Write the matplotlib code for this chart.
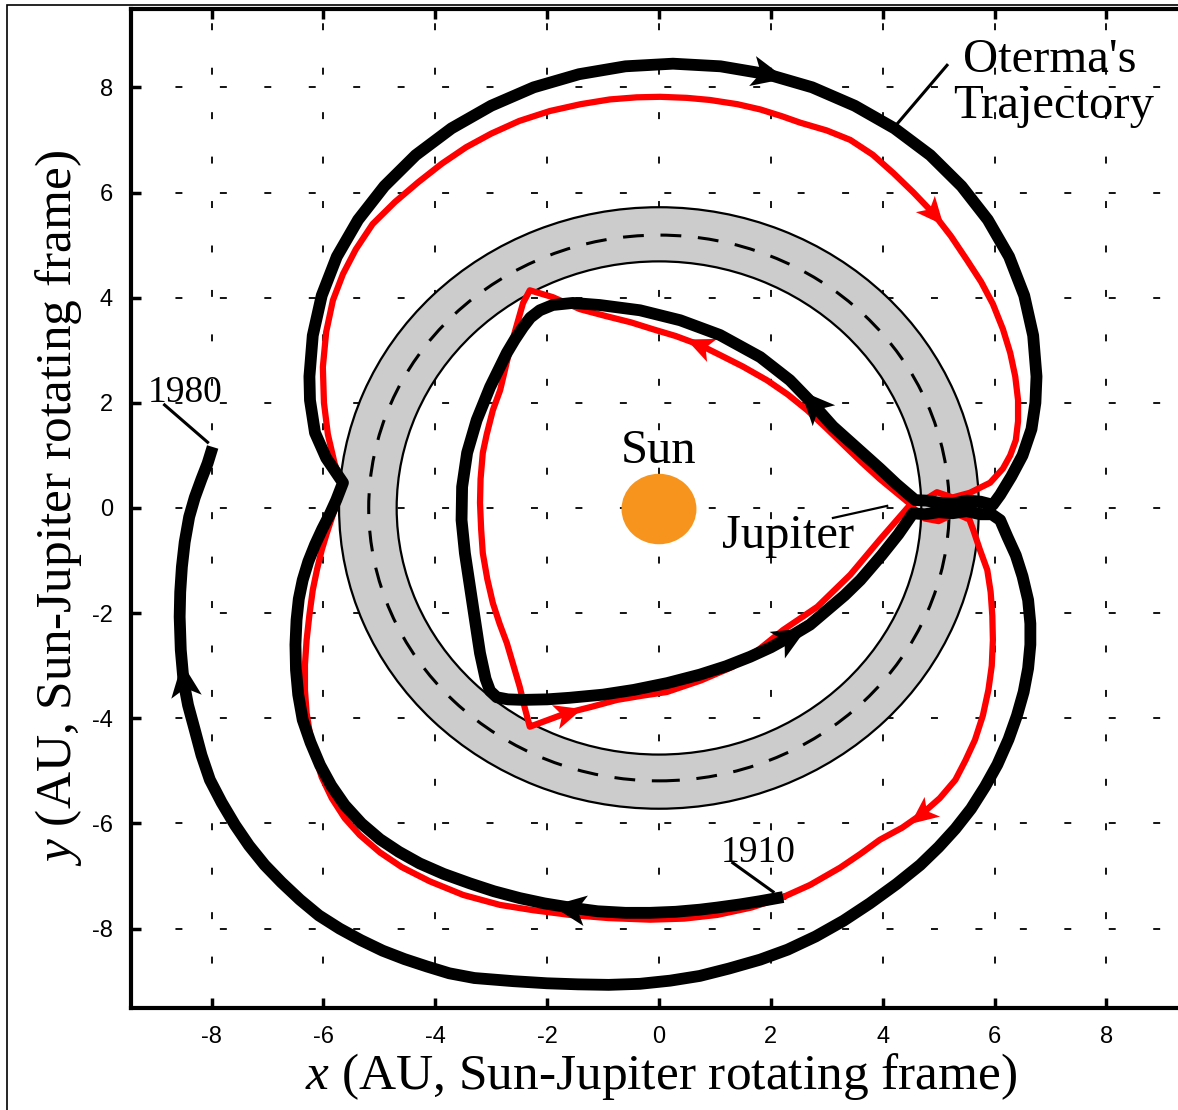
import numpy as np
import matplotlib.pyplot as plt
from matplotlib.patches import Annulus, Circle, Rectangle
from matplotlib.markers import MarkerStyle
from matplotlib.path import Path
from matplotlib.transforms import Affine2D

plt.rcParams['mathtext.fontset'] = 'custom'
plt.rcParams['mathtext.rm'] = 'Liberation Serif'
plt.rcParams['mathtext.it'] = 'Liberation Serif:italic'
plt.rcParams['lines.scale_dashes'] = False
plt.rcParams['axes.unicode_minus'] = False

# Oterma's trajectory 1910 -> 1980 (AU, Sun-Jupiter rotating frame), in pieces
oterma_in_bottom = [(2.22, -7.40), (1.80, -7.48), (1.45, -7.54), (1.04, -7.60), (0.73, -7.64),
                    (0.30, -7.68), (-0.16, -7.70), (-0.60, -7.70), (-1.10, -7.67), (-1.59, -7.60),
                    (-2.05, -7.52), (-2.49, -7.42), (-2.95, -7.29), (-3.38, -7.14), (-3.85, -6.96),
                    (-4.28, -6.76), (-4.65, -6.54), (-4.99, -6.30), (-5.32, -6.00), (-5.62, -5.65),
                    (-5.86, -5.28), (-6.06, -4.89), (-6.23, -4.46), (-6.37, -4.03), (-6.45, -3.55),
                    (-6.49, -3.08), (-6.50, -2.60), (-6.48, -2.13), (-6.44, -1.73), (-6.37, -1.37),
                    (-6.27, -1.02), (-6.15, -0.70), (-6.02, -0.40), (-5.89, -0.13), (-5.77, 0.15),
                    (-5.65, 0.48)]
oterma_top = [(-5.95, 0.95), (-6.15, 1.43), (-6.24, 2.05), (-6.25, 2.50), (-6.19, 3.28),
              (-6.03, 4.04), (-5.76, 4.78), (-5.38, 5.48), (-4.91, 6.12), (-4.35, 6.71),
              (-3.71, 7.22), (-3.00, 7.65), (-2.24, 8.00), (-1.43, 8.25), (-0.60, 8.40),
              (0.25, 8.45), (1.10, 8.40), (1.93, 8.25), (2.74, 8.00), (3.50, 7.65),
              (4.21, 7.22), (4.85, 6.71), (5.41, 6.12), (5.88, 5.48), (6.26, 4.78),
              (6.53, 4.04), (6.69, 3.28), (6.75, 2.50), (6.73, 2.00), (6.66, 1.50),
              (6.50, 1.00), (6.30, 0.60), (6.10, 0.25), (5.97, 0.06)]
oterma_jup_in = [(5.75, 0.12), (5.50, 0.14), (5.25, 0.08), (5.00, 0.10), (4.78, 0.14),
                 (4.58, 0.15)]
oterma_loop = [(4.25, 0.45), (3.95, 0.75), (3.50, 1.18), (3.11, 1.55), (2.75, 1.98),
               (2.34, 2.43), (1.81, 2.87), (1.09, 3.29), (0.38, 3.57), (-0.34, 3.76),
               (-1.06, 3.86), (-1.54, 3.90), (-1.90, 3.86), (-2.13, 3.76), (-2.30, 3.62),
               (-2.43, 3.44), (-2.58, 3.20), (-2.72, 2.95), (-3.02, 2.30), (-3.26, 1.67),
               (-3.43, 1.05), (-3.52, 0.40), (-3.53, -0.23), (-3.47, -0.86), (-3.38, -1.50),
               (-3.29, -2.13), (-3.20, -2.76), (-3.10, -3.25), (-3.02, -3.48), (-2.90, -3.60),
               (-2.70, -3.64), (-2.43, -3.65), (-2.00, -3.64), (-1.60, -3.61), (-1.00, -3.55),
               (-0.45, -3.46), (0.15, -3.33), (0.73, -3.17), (1.20, -3.01), (1.63, -2.83),
               (2.00, -2.65), (2.34, -2.45), (2.70, -2.22), (3.01, -1.94), (3.32, -1.66),
               (3.60, -1.37), (3.98, -0.90), (4.28, -0.50), (4.54, -0.10)]
oterma_jup_out = [(4.75, -0.12), (5.00, -0.08), (5.25, -0.10), (5.50, -0.06), (5.75, -0.12),
                  (5.95, -0.12), (6.10, -0.23)]
oterma_outer = [(6.23, -0.55), (6.38, -0.90), (6.50, -1.30), (6.60, -1.75), (6.64, -2.20),
                (6.64, -2.60), (6.60, -3.05), (6.52, -3.50), (6.40, -3.95), (6.25, -4.40),
                (6.05, -4.88), (5.83, -5.30), (5.58, -5.72), (5.30, -6.10), (5.00, -6.45),
                (4.67, -6.79), (4.25, -7.15), (3.77, -7.52), (3.30, -7.85), (2.80, -8.15),
                (2.30, -8.40), (1.81, -8.59), (1.25, -8.76), (0.73, -8.90), (0.20, -8.99),
                (-0.34, -9.05), (-0.90, -9.07), (-1.45, -9.06), (-2.00, -9.04), (-2.60, -9.00),
                (-3.30, -8.94), (-3.75, -8.85), (-4.15, -8.72), (-4.55, -8.58), (-4.94, -8.42),
                (-5.33, -8.22), (-5.71, -8.00), (-6.08, -7.75), (-6.42, -7.45), (-6.75, -7.12),
                (-7.05, -6.79), (-7.33, -6.42), (-7.58, -6.03), (-7.82, -5.60), (-8.03, -5.17),
                (-8.18, -4.70), (-8.30, -4.22), (-8.42, -3.75), (-8.50, -3.30), (-8.55, -2.70),
                (-8.57, -2.07), (-8.56, -1.60), (-8.53, -1.12), (-8.48, -0.65), (-8.40, -0.17),
                (-8.30, 0.20), (-8.18, 0.55), (-8.07, 0.85), (-7.98, 1.16)]
oterma_arrows = [(-1.59, -7.60), (1.93, 8.25), (2.75, 1.98), (2.34, -2.45), (-8.50, -3.30)]

# homoclinic-heteroclinic chain (red), a closed curve
chain_bottom = [(2.22, -7.40), (1.65, -7.60), (1.04, -7.74), (0.45, -7.81), (-0.16, -7.83),
                (-0.90, -7.80), (-1.59, -7.74), (-2.25, -7.65), (-2.84, -7.55), (-3.50, -7.36),
                (-4.10, -7.10), (-4.60, -6.83), (-4.99, -6.55), (-5.35, -6.22), (-5.62, -5.90),
                (-5.85, -5.52), (-6.03, -5.12), (-6.15, -4.72), (-6.24, -4.30), (-6.30, -3.90),
                (-6.33, -3.46), (-6.33, -2.98), (-6.30, -2.51), (-6.25, -2.03), (-6.19, -1.56),
                (-6.11, -1.15), (-6.03, -0.80), (-5.93, -0.45), (-5.83, -0.13), (-5.74, 0.13),
                (-5.65, 0.38)]
chain_top = [(-5.80, 0.85), (-5.92, 1.40), (-5.99, 2.00), (-6.01, 2.68), (-5.95, 3.35),
             (-5.83, 3.95), (-5.65, 4.45), (-5.42, 4.92), (-5.12, 5.40), (-4.72, 5.82),
             (-4.30, 6.20), (-3.88, 6.55), (-3.45, 6.86), (-3.00, 7.12), (-2.50, 7.36),
             (-1.95, 7.55), (-1.40, 7.68), (-0.88, 7.77), (-0.40, 7.81), (0.02, 7.82),
             (0.50, 7.80), (0.91, 7.76), (1.40, 7.68), (1.81, 7.58), (2.20, 7.45),
             (2.52, 7.33), (3.00, 7.18), (3.42, 7.00), (3.82, 6.72), (4.19, 6.37),
             (4.55, 6.00), (4.90, 5.61), (5.22, 5.17), (5.51, 4.71), (5.76, 4.30),
             (5.97, 3.88), (6.15, 3.40), (6.28, 2.95), (6.37, 2.50), (6.42, 2.05),
             (6.42, 1.65), (6.38, 1.29), (6.28, 1.00), (6.15, 0.75), (5.92, 0.48),
             (5.56, 0.29)]
chain_jup_in = [(5.25, 0.20), (4.97, 0.30), (4.70, 0.12), (4.44, 0.12)]
chain_loop = [(4.20, 0.33), (3.95, 0.55), (3.62, 0.87), (3.30, 1.20), (2.98, 1.53),
              (2.65, 1.86), (2.30, 2.16), (1.93, 2.43), (1.50, 2.69), (1.09, 2.91),
              (0.73, 3.10), (0.30, 3.27), (-0.11, 3.40), (-0.50, 3.53), (-0.95, 3.65),
              (-1.41, 3.78), (-1.90, 4.01), (-2.31, 4.14), (-2.43, 3.90), (-2.55, 3.45),
              (-2.67, 3.00), (-2.84, 2.24), (-2.97, 1.86), (-3.08, 1.40), (-3.15, 1.05),
              (-3.19, 0.55), (-3.20, 0.10), (-3.18, -0.40), (-3.15, -0.86), (-3.07, -1.35),
              (-2.97, -1.81), (-2.85, -2.20), (-2.72, -2.57), (-2.60, -3.00), (-2.49, -3.40),
              (-2.40, -3.80), (-2.31, -4.16), (-1.98, -4.03), (-1.65, -3.90), (-1.20, -3.78),
              (-0.75, -3.65), (-0.30, -3.57), (0.14, -3.50), (0.75, -3.28), (1.32, -3.02),
              (1.80, -2.68), (2.22, -2.32), (2.83, -1.88), (3.42, -1.27), (3.95, -0.60),
              (4.49, 0.06)]
chain_jup_out = [(4.75, -0.20), (5.00, -0.25), (5.30, -0.10), (5.55, -0.22), (5.62, -0.42)]
chain_right = [(5.74, -0.80), (5.87, -1.18), (5.93, -1.60), (5.96, -2.05), (5.97, -2.51),
               (5.95, -3.00), (5.89, -3.46), (5.79, -3.95), (5.65, -4.41), (5.48, -4.80),
               (5.30, -5.17), (5.02, -5.52), (4.70, -5.82), (4.35, -6.08), (3.95, -6.31),
               (3.60, -6.58), (3.24, -6.84), (2.70, -7.17), (2.22, -7.40)]
chain_arrows = [(4.90, 5.61), (0.73, 3.10), (-1.65, -3.90), (4.70, -5.82)]

# Jupiter's orbit, the band around it, the Sun
orbit_r = 5.19
band_outer, band_inner = 5.72, 4.69
sun_xy, sun_r = (0.0, -0.02), 0.67

ticks = [-8, -6, -4, -2, 0, 2, 4, 6, 8]

oterma = (oterma_in_bottom + oterma_top + oterma_jup_in + oterma_loop
          + oterma_jup_out + oterma_outer)
chain = chain_bottom + chain_top + chain_jup_in + chain_loop + chain_jup_out + chain_right
ox, oy = [p[0] for p in oterma], [p[1] for p in oterma]
cx, cy = [p[0] for p in chain], [p[1] for p in chain]

fig = plt.figure(figsize=(11.78, 11.10), dpi=100)
ax = fig.add_axes([131 / 1178, 102 / 1110, 1061 / 1178, 999 / 1110])
ax.set_xlim(-9.44, 9.53)
ax.set_ylim(-9.51, 9.49)

ax.set_axisbelow(True)
ax.grid(True, color='black', lw=1.3, ls=(0, (5, 27)))

ax.add_patch(Annulus((0, 0), band_outer, band_outer - band_inner,
                     facecolor='#cccccc', edgecolor='black', lw=1.6, zorder=2))
ax.add_patch(Circle((0, 0), orbit_r, fill=False, edgecolor='black', lw=2.2,
                    ls=(0, (15, 12)), zorder=2.5))
ax.add_patch(Circle(sun_xy, sun_r, facecolor='#f7941d', edgecolor='none', zorder=2))

ax.plot(cx, cy, color='red', lw=4.5, solid_joinstyle='round', zorder=3)
ax.plot(ox, oy, color='black', lw=8.5, solid_joinstyle='round',
        solid_capstyle='butt', zorder=4)

head = Path([(0.55, 0), (-0.45, 0.45), (-0.2, 0), (-0.45, -0.45), (0.55, 0)],
            [Path.MOVETO, Path.LINETO, Path.LINETO, Path.LINETO, Path.CLOSEPOLY])


def draw_arrows(pts, where, color, size, z):
    for p in where:
        i = pts.index(p)
        p0 = ax.transData.transform(pts[i - 1])
        p1 = ax.transData.transform(pts[i + 1])
        ang = np.degrees(np.arctan2(p1[1] - p0[1], p1[0] - p0[0]))
        m = MarkerStyle(head, transform=Affine2D().rotate_deg(ang))
        ax.plot(p[0], p[1], marker=m, ms=size, color=color, mec=color,
                mew=0, zorder=z)


draw_arrows(chain, chain_arrows, 'red', 22, 3.5)
draw_arrows(oterma, oterma_arrows, 'black', 27, 4.5)

serif = 'Liberation Serif'
ax.text(0.0, 0.86, 'Sun', family=serif, fontsize=35, ha='center', va='baseline', zorder=6)
ax.text(2.31, -0.76, 'Jupiter', family=serif, fontsize=35, ha='center', va='baseline', zorder=6)
ax.plot([3.11, 4.08], [-0.19, 0.04], color='black', lw=1.6, zorder=6)
ax.text(6.98, 8.29, "Oterma's", family=serif, fontsize=35, ha='center', va='baseline', zorder=6)
ax.text(7.05, 7.41, 'Trajectory', family=serif, fontsize=35, ha='center', va='baseline', zorder=6)
ax.plot([5.15, 4.19], [8.42, 7.22], color='black', lw=2.2, zorder=6)
ax.text(-8.48, 2.02, '1980', family=serif, fontsize=27, ha='center', va='baseline', zorder=6)
ax.plot([-8.84, -8.07], [1.96, 1.25], color='black', lw=2.2, zorder=6)
ax.text(1.78, -6.73, '1910', family=serif, fontsize=27, ha='center', va='baseline', zorder=6)
ax.plot([1.32, 2.04], [-6.75, -7.30], color='black', lw=2.2, zorder=6)

ax.set_xticks(ticks)
ax.set_yticks(ticks)
ax.tick_params(direction='in', length=7, width=2.5, top=True, right=True,
               labelsize=17, pad=13)
for lab in ax.get_xticklabels() + ax.get_yticklabels():
    lab.set_family('Liberation Sans')
for s in ax.spines.values():
    s.set_linewidth(3)

ax.set_xlabel(r'$\mathit{x}$ (AU, Sun-Jupiter rotating frame)', family=serif,
              fontsize=37, labelpad=2)
ax.set_ylabel(r'$\mathit{y}$ (AU, Sun-Jupiter rotating frame)', family=serif,
              fontsize=37, labelpad=6)

fig.patches.append(Rectangle((7 / 1178, -0.01), 1.02, 1.01 - 5 / 1110,
                             transform=fig.transFigure, fill=False,
                             edgecolor='black', lw=1.2))

fig.savefig('out.png', dpi=100)
